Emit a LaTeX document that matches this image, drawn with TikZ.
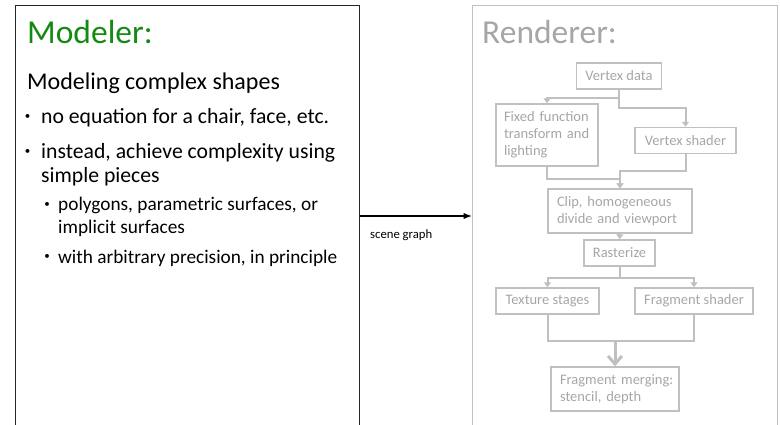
\documentclass[tikz,border=0pt]{standalone}
\usepackage{fontspec}
\setmainfont{Carlito}
\usepackage{xcolor}
\usepackage{tikz}
\usetikzlibrary{arrows.meta,positioning,calc}

\definecolor{modelgreen}{RGB}{20,138,20}
\definecolor{rendertext}{RGB}{166,166,166}
\definecolor{renderline}{RGB}{192,192,192}

\begin{document}
\begin{tikzpicture}[
  x=1pt, y=-1pt,
  >=Latex,
  title/.style={anchor=base west, inner sep=0pt, font=\fontsize{33.5}{40}\selectfont},
  heading/.style={anchor=base west, inner sep=0pt, font=\fontsize{24}{29}\selectfont},
  item/.style={anchor=base west, inner sep=0pt, align=left,
    font=\fontsize{21.7}{24}\selectfont},
  subitem/.style={anchor=base west, inner sep=0pt, align=left,
    font=\fontsize{19.3}{22.5}\selectfont},
  bulletmark/.style={inner sep=0pt, font=\fontsize{11}{12}\selectfont},
  panel/.style={
    anchor=north west, line width=1.2pt,
    minimum height=440pt
  },
  stage/.style={
    draw=renderline, line width=1.5pt, text=rendertext,
    font={\fontsize{14.5}{17}\selectfont\frenchspacing\hyphenpenalty=10000\relax}, align=left,
    inner xsep=9pt, inner ysep=4pt, minimum height=26pt
  },
  flow/.style={draw=renderline, line width=2pt, -{Triangle[length=5pt,width=7pt]}},
  flowjoin/.style={draw=renderline, line width=2pt},
  mergeflow/.style={draw=renderline, line width=3pt, -{Straight Barb[length=8pt,width=14pt]}},
  scene/.style={->, line width=1.2pt}
]
\useasboundingbox (0,0) rectangle (780,424);

% --- Panels ---
\node[panel, draw=black!85, minimum width=344pt] (modeler) at (15,5) {};
\node[panel, draw=renderline, minimum width=305pt] (renderer) at (472,5) {};

% --- Modeler text ---
\node[title, text=modelgreen] (mtitle) at (27,43) {Modeler:};
\node[heading] (mhead) at (27,89) {Modeling complex shapes};

\node[bulletmark] (b1) at (27.5,117) {•};
\node[item] (i1) at (41,123) {no equation for a chair, face, etc.};
\node[bulletmark] (b2) at (27.5,152) {•};
\node[item] (i2) at (41,182) {instead, achieve complexity using\\simple pieces};

\node[bulletmark] (b3) at (47,205) {•};
\node[subitem] (s1) at (58,233) {polygons, parametric surfaces, or\\implicit surfaces};
\node[bulletmark] (b4) at (47,257) {•};
\node[subitem] (s2) at (58,263) {with arbitrary precision, in principle};

% --- Scene graph link ---
\coordinate (sg) at (0,216);
\draw[scene] (sg -| modeler.east) -- (sg -| renderer.west);
\node[anchor=base west, inner sep=0pt, font=\fontsize{12.7}{14}\selectfont] (sglabel) at (370,238) {scene graph};

% --- Renderer pipeline ---
\node[title, text=rendertext] (rtitle) at (482,43) {Renderer:};

\node[stage] (vdata) at (619,76) {Vertex data};
\node[stage, text width=86pt, inner xsep=8pt, minimum height=62pt] (fixed) at (547,135) {Fixed~function\\transform and\\lighting};
\node[stage, minimum width=101pt] (vshader) at (685.5,140.5) {Vertex shader};
\node[stage, text width=126pt, minimum height=44pt] (clip) at (620,211) {Clip, homogeneous\\divide and viewport};
\node[stage] (raster) at (619.5,253) {Rasterize};
\node[stage, minimum width=103pt] (texture) at (547.5,301) {Texture stages};
\node[stage, minimum width=118pt] (fshader) at (694,301) {Fragment shader};
\node[stage, text width=110pt, minimum height=44pt] (merge) at (615,389) {Fragment~merging:\\stencil, depth};

\draw[flow] (vdata.south) -- ++(0,8) -| (fixed.north);
\draw[flow] (vdata.south) -- ++(0,18) -| (vshader.north);
\draw[flow] (fixed.south) -- ++(0,12) -| (clip.north);
\draw[flow] (vshader.south) -- ++(0,17) -| (clip.north);
\draw[flow] (clip.south) -- (raster.north);
\draw[flow] (raster.south) -- ++(0,11) -| (texture.north);
\draw[flow] (raster.south) -- ++(0,11) -| (fshader.north);
\draw[flowjoin] (texture.south) -- ++(0,26) coordinate (jl) -| (fshader.south);
\draw[mergeflow] (jl -| merge.north) -- (merge.north);

\end{tikzpicture}
\end{document}
